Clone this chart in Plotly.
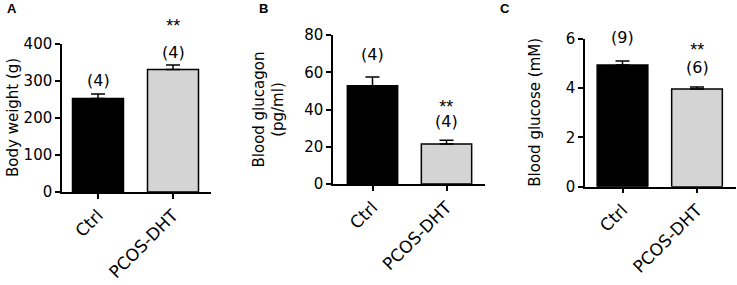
import plotly.graph_objects as go

# ---- data ----
categories = ["Ctrl", "PCOS-DHT"]
body_weight_mean = [253, 331]
body_weight_sem = [12, 12]
body_weight_n = ["(4)", "(4)"]
glucagon_mean = [52.7, 21.5]
glucagon_sem = [4.7, 2.0]
glucagon_n = ["(4)", "(4)"]
glucose_mean = [4.93, 3.96]
glucose_sem = [0.17, 0.08]
glucose_n = ["(9)", "(6)"]
significance = ["", "**"]
panel_letters = ["A", "B", "C"]
y_titles = ["Body weight (g)", "Blood glucagon<br>(pg/ml)", "Blood glucose (mM)"]
y_ticks = [[0, 100, 200, 300, 400], [0, 20, 40, 60, 80], [0, 2, 4, 6]]

W, H = 737, 285
FONT = "DejaVu Sans, Verdana, sans-serif"
LFONT = "Liberation Sans, Arial, sans-serif"
colors = ["#000000", "#d4d4d4"]

# layout geometry (pixels); n_off / star_off = label centre above error-bar top
panels = [
    dict(means=body_weight_mean, sems=body_weight_sem, ns=body_weight_n,
         x0=62, x1=211, c0=98, c1=173, y0=192, y1=44, ymax=400,
         title_x=13, n_off=[13, 12], star_off=43, letter_x=12),
    dict(means=glucagon_mean, sems=glucagon_sem, ns=glucagon_n,
         x0=333, x1=485, c0=372.5, c1=446.5, y0=184, y1=35, ymax=80,
         title_x=269, n_off=[23, 18], star_off=37, letter_x=263),
    dict(means=glucose_mean, sems=glucose_sem, ns=glucose_n,
         x0=585, x1=736, c0=622.5, c1=697, y0=186.7, y1=38.7, ymax=6,
         title_x=535, n_off=[23, 19], star_off=41, letter_x=505),
]

fig = go.Figure()
annotations = []
for i, p in enumerate(panels):
    k = "" if i == 0 else str(i + 1)
    fig.add_trace(go.Bar(
        x=categories, y=p["means"],
        marker=dict(color=colors, line=dict(color="black", width=1.5)),
        width=0.68,
        error_y=dict(type="data", array=p["sems"], arrayminus=[0, 0], symmetric=False,
                     color="black", thickness=1.5, width=7),
        xaxis="x" + k, yaxis="y" + k, showlegend=False, hoverinfo="skip",
    ))
    sp = (p["c1"] - p["c0"])
    xr = [-(p["c0"] - p["x0"]) / sp, 1 + (p["x1"] - p["c1"]) / sp]
    fig.update_layout(**{
        "xaxis" + k: dict(
            domain=[p["x0"] / W, p["x1"] / W], range=xr, anchor="y" + k,
            type="category", showline=True, linecolor="black", linewidth=1.5,
            ticks="outside", ticklen=5, tickwidth=1.5, tickcolor="black",
            tickangle=-45, tickfont=dict(family=FONT, size=17, color="black"),
            showgrid=False, zeroline=False, fixedrange=True, automargin=False),
        "yaxis" + k: dict(
            domain=[(H - p["y0"]) / H, (H - p["y1"]) / H], range=[0, p["ymax"]],
            anchor="x" + k, showline=True, linecolor="black", linewidth=1.5,
            ticks="outside", ticklen=5, tickwidth=1.5, tickcolor="black",
            tickvals=y_ticks[i], tickfont=dict(family=FONT, size=15, color="black"),
            showgrid=False, zeroline=False, fixedrange=True, automargin=False),
    })
    for j, cat in enumerate(categories):
        top = p["means"][j] + p["sems"][j]
        if significance[j]:
            gap = p["star_off"] - p["n_off"][j]
            base = (gap - 5.4) / 1.3
            txt = (f"<span style='font-family:{LFONT};font-size:18px'>{significance[j]}</span>"
                   f"<br><span style='font-size:16px'>{p['ns'][j]}</span>")
            annotations.append(dict(
                x=cat, y=top, xref="x" + k, yref="y" + k, text=txt,
                showarrow=False, yanchor="bottom", yshift=p["n_off"][j] - 10, borderpad=0,
                font=dict(family=FONT, size=base, color="black")))
        else:
            annotations.append(dict(
                x=cat, y=top, xref="x" + k, yref="y" + k, text=p["ns"][j],
                showarrow=False, yanchor="middle", yshift=p["n_off"][j], borderpad=0,
                font=dict(family=FONT, size=16, color="black")))
    annotations.append(dict(
        x=p["title_x"] / W, y=(H - (p["y0"] + p["y1"]) / 2) / H, xref="paper", yref="paper",
        text=y_titles[i], textangle=-90, showarrow=False,
        xanchor="center", yanchor="middle",
        font=dict(family=FONT, size=15, color="black")))
    annotations.append(dict(
        x=p["letter_x"] / W, y=(H - 9) / H, xref="paper", yref="paper",
        text="<b>" + panel_letters[i] + "</b>", showarrow=False,
        xanchor="center", yanchor="middle",
        font=dict(family=LFONT, size=13, color="black")))

fig.update_layout(
    template="none",
    width=W, height=H, margin=dict(l=0, r=0, t=0, b=0, autoexpand=False),
    plot_bgcolor="white", paper_bgcolor="white",
    annotations=annotations, showlegend=False,
)
fig.write_html("out.html", config={"displayModeBar": False},
               post_script="document.body.style.margin='0';document.body.style.overflow='hidden';")
